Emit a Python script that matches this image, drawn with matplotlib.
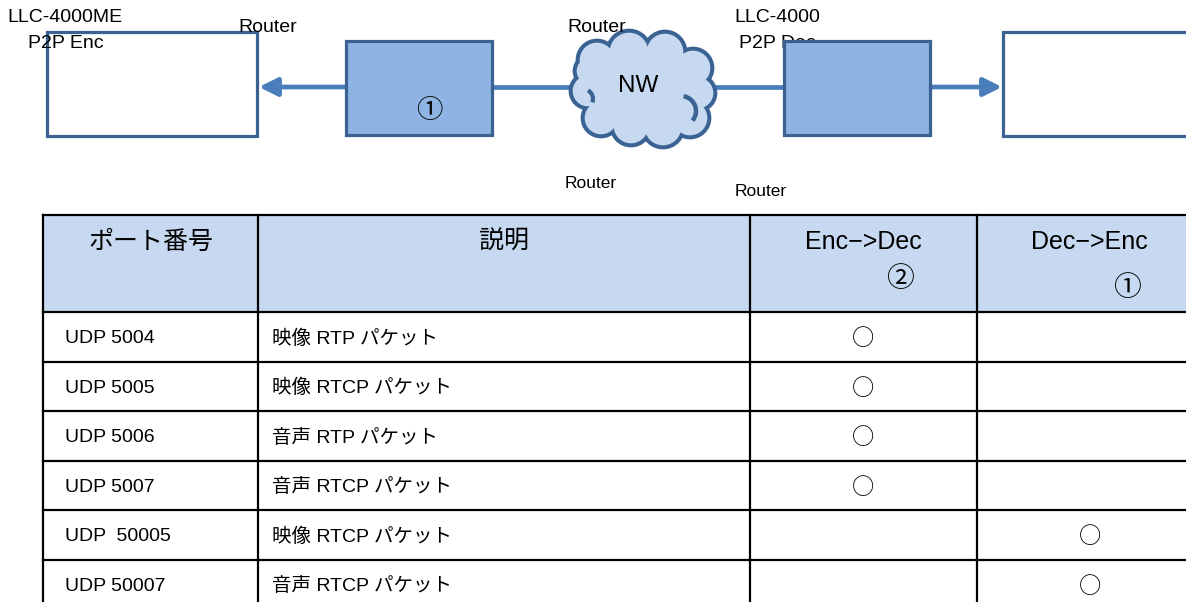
import matplotlib.pyplot as plt
from matplotlib.patches import Rectangle, Circle, Ellipse, FancyArrowPatch, Arc

plt.rcParams['font.family'] = ['Liberation Sans', 'Noto Sans CJK JP', 'DejaVu Sans']

# table data
headers = ['ポート番号', '説明', 'Enc−>Dec', 'Dec−>Enc']
header_marks = ['', '', '②', '①']
ports = ['UDP 5004', 'UDP 5005', 'UDP 5006', 'UDP 5007', 'UDP  50005', 'UDP 50007']
descs = ['映像 RTP パケット', '映像 RTCP パケット', '音声 RTP パケット',
         '音声 RTCP パケット', '映像 RTCP パケット', '音声 RTCP パケット']
enc_dec = [1, 1, 1, 1, 0, 0]
dec_enc = [0, 0, 0, 0, 1, 1]

# diagram labels
diagram_labels = [(7, 18, 'LLC-4000ME'), (28, 44, 'P2P Enc'),
                  (734, 18, 'LLC-4000'), (739, 44, 'P2P Dec')]
router_labels = [(238, 27, 14), (567, 27, 14), (565, 184, 12.5), (735, 192, 12.5)]

EDGE = '#3A6393'
LINE = '#4A7EBB'
BOXFILL = '#8EB4E3'
CLOUD = '#C6D9F1'
HEAD = '#C6D9F1'
CJK = ['Noto Sans CJK JP', 'DejaVu Sans']

fig = plt.figure(figsize=(11.86, 6.02), dpi=100)
ax = fig.add_axes([0, 0, 1, 1])
ax.set_xlim(0, 1186)
ax.set_ylim(602, 0)
ax.axis('off')

# ---- diagram ----
ax.add_patch(Rectangle((47, 32), 210, 104, fc='white', ec=EDGE, lw=2.3, zorder=2))
ax.add_patch(Rectangle((1003, 32), 220, 104, fc='white', ec=EDGE, lw=2.3, zorder=2))
ax.add_patch(Rectangle((346, 41), 146, 94, fc=BOXFILL, ec=EDGE, lw=2.3, zorder=5))
ax.add_patch(Rectangle((784, 41), 146, 94, fc=BOXFILL, ec=EDGE, lw=2.3, zorder=5))

ax.plot([492, 575], [87, 87], color=LINE, lw=3.4, zorder=1)
ax.plot([712, 784], [87, 87], color=LINE, lw=3.4, zorder=1)
for x0, x1 in [(346, 259), (930, 1002)]:
    ax.add_patch(FancyArrowPatch((x0, 87), (x1, 87), arrowstyle='-|>,head_length=11,head_width=5.5',
                                 color=LINE, lw=3.4, shrinkA=0, shrinkB=0, mutation_scale=1, zorder=1))

# cloud from overlapping bumps
cx, cy = 643, 87
bumps = [(-46, -27, 19), (-14, -35, 21), (22, -35, 20), (50, -19, 19), (55, 6, 17),
         (47, 31, 19), (20, 40, 20), (-12, 39, 19), (-42, 31, 18), (-55, 4, 17),
         (-53, -16, 15)]
for dx, dy, r in bumps:
    ax.add_patch(Circle((cx + dx, cy + dy), r, fc=CLOUD, ec=EDGE, lw=3.4, zorder=3))
for dx, dy, r in bumps:
    ax.add_patch(Circle((cx + dx, cy + dy), r - 1.7, fc=CLOUD, ec='none', zorder=3.5))
ax.add_patch(Ellipse((cx, cy), 112, 80, fc=CLOUD, ec='none', zorder=3.6))
ax.add_patch(Arc((cx + 38, cy + 24), 30, 30, theta1=-80, theta2=40, color=EDGE, lw=3.2, zorder=3.7))
ax.add_patch(Arc((cx - 60, cy + 12), 20, 20, theta1=-60, theta2=20, color=EDGE, lw=3.0, zorder=3.7))
ax.text(638, 86, 'NW', fontsize=17.5, ha='center', va='center', zorder=6)

ax.text(429, 110, '①', fontsize=19, ha='center', va='center', family=CJK, zorder=6)

for x, y, s in diagram_labels:
    ax.text(x, y, s, fontsize=14, ha='left', va='center', zorder=4)
for x, y, fs in router_labels:
    ax.text(x, y, 'Router', fontsize=fs, ha='left', va='center', zorder=4)

# ---- table ----
col_x = [43, 258, 750, 977, 1200]
top, head_bottom, row_h = 215, 312, 49.5
n = len(ports)
bottom = head_bottom + n * row_h
ax.add_patch(Rectangle((col_x[0], top), col_x[-1] - col_x[0], head_bottom - top,
                       fc=HEAD, ec='none', zorder=1))
for i in range(n + 2):
    y = top if i == 0 else head_bottom + (i - 1) * row_h
    ax.plot([col_x[0], col_x[-1]], [y, y], color='black', lw=1.6)
for x in col_x[:-1]:
    ax.plot([x, x], [top, bottom], color='black', lw=1.6)

hx = [151, 504, 863, 1089]
for i, h in enumerate(headers):
    ax.text(hx[i], 242, h, fontsize=18, ha='center', va='center')
ax.text(900, 279, header_marks[2], fontsize=20, ha='center', va='center', family=CJK)
ax.text(1127, 288, header_marks[3], fontsize=20, ha='center', va='center', family=CJK)

for i in range(n):
    y = head_bottom + (i + 0.5) * row_h + 2
    ax.text(65, y, ports[i], fontsize=14, ha='left', va='center')
    ax.text(272, y, descs[i], fontsize=14, ha='left', va='center')
    if enc_dec[i]:
        ax.text(863, y, '○', fontsize=16, ha='center', va='center', family=CJK)
    if dec_enc[i]:
        ax.text(1090, y, '○', fontsize=16, ha='center', va='center', family=CJK)

fig.savefig('out.png', dpi=100)
